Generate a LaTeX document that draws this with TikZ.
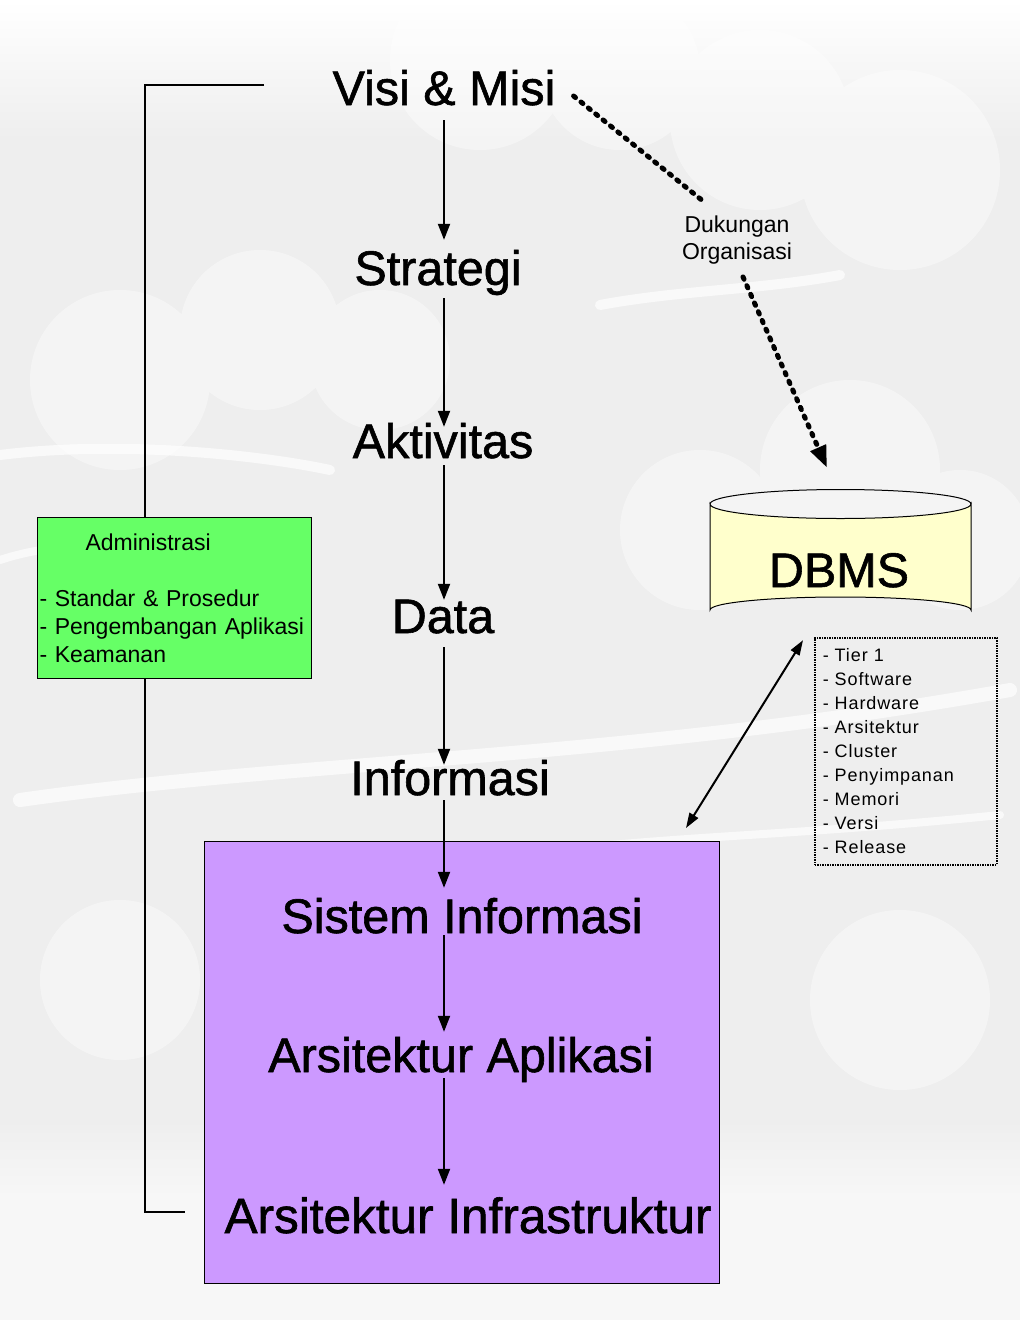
\documentclass[tikz,border=0pt]{standalone}
\usepackage{fontspec}
\setmainfont{Liberation Sans}
\usetikzlibrary{arrows.meta,calc}
\definecolor{bggray}{RGB}{238,238,238}
\definecolor{admgreen}{RGB}{102,255,102}
\definecolor{syspurple}{RGB}{204,153,255}
\definecolor{dbyellow}{RGB}{255,255,204}
\tikzset{
  big/.style={font=\fontsize{48.5}{58}\selectfont\addfontfeature{FakeBold=1.2}, inner sep=0pt, text height=33pt, text depth=12pt, anchor=base},
  flowarrow/.style={line width=2pt, -{Triangle[length=16pt,width=12pt]}},
  dotline/.style={line width=5pt, dash pattern=on 2.5pt off 7pt, line cap=round},
  dotarrow/.style={dotline, -{Triangle[length=22pt,width=16pt]}},
  dblarrow/.style={line width=2pt, {Triangle[length=15pt,width=10pt]}-{Triangle[length=15pt,width=10pt]}},
  bracketline/.style={line width=2pt},
  admbox/.style={draw=black, line width=1pt, fill=admgreen, minimum width=274pt, minimum height=161pt, inner xsep=2pt, inner ysep=0pt, align=left, text width=270pt, font=\fontsize{23}{28}\selectfont, anchor=north west},
  sysbox/.style={draw=black, line width=1pt, fill=syspurple, minimum width=515pt, minimum height=442pt, anchor=north west, inner sep=0pt},
  tierbox/.style={draw=black, line width=1.5pt, dash pattern=on 1.5pt off 1pt, minimum width=182pt, minimum height=227pt, inner xsep=8pt, inner ysep=0pt, align=left, text width=166pt, anchor=north west, font=\fontsize{18}{24}\selectfont\addfontfeature{LetterSpace=5}},
  smalllabel/.style={font=\fontsize{23}{27}\selectfont, align=center, inner sep=0pt},
  band/.style={white, line cap=round, opacity=0.7},
  puff/.style={white, opacity=0.4}
}
\begin{document}
\begin{tikzpicture}[x=1pt,y=-1pt]
\useasboundingbox (0,0) rectangle (1020,1320);
% background (cloudy)
\fill[bggray] (0,0) rectangle (1020,1320);
\shade[top color=white, bottom color=bggray] (0,0) rectangle (1020,140);
\shade[top color=bggray, bottom color=white!97!black] (0,1120) rectangle (1020,1200);
\fill[white!97!black] (0,1200) rectangle (1020,1320);
\fill[puff] (480,60) circle[radius=90] (620,70) circle[radius=80] (760,120) circle[radius=90] (900,170) circle[radius=100]
  (120,380) circle[radius=90] (260,330) circle[radius=80] (380,360) circle[radius=70]
  (700,530) circle[radius=80] (850,470) circle[radius=90] (960,540) circle[radius=70]
  (120,980) circle[radius=80] (900,1000) circle[radius=90];
\draw[band, line width=14pt] (20,800) .. controls (300,760) and (620,760) .. (1010,690);
\draw[band, line width=10pt] (600,305) .. controls (680,290) and (760,290) .. (840,275);
\draw[band, line width=10pt] (0,455) .. controls (120,440) and (260,455) .. (330,470);
\draw[band, line width=8pt] (560,850) .. controls (700,835) and (800,835) .. (1000,815);
\draw[band, line width=8pt] (0,560) .. controls (60,540) and (120,545) .. (200,560);

% main column
\coordinate (spine) at (444,0);
\node[big] (visi)  at (444,105)  {Visi \& Misi};
\node[big] (strat) at (438,285)  {Strategi};
\node[big] (akt)   at (443,458)  {Aktivitas};
\node[big] (data)  at (443,633)  {Data};
\node[big] (info)  at (450,795)  {Informasi};

% bracket
\coordinate (bt) at (264,85);
\coordinate (bb) at (185,1212);
\draw[bracketline] (bt) -- (145,85) -- (145,1212) -- (bb);

% administration box
\node[admbox] (adm) at (37,517) {\hspace*{46pt}Administrasi\\[28pt]- Standar \& Prosedur\\- Pengembangan Aplikasi\\- Keamanan};

% system box
\node[sysbox] (sys) at (204,841) {};
\node[big] (si)    at (462,933)  {Sistem Informasi};
\node[big] (aa)    at (461,1072) {Arsitektur Aplikasi};
\node[big, font=\fontsize{49.5}{58}\selectfont\addfontfeature{FakeBold=1.2}] (ai) at (468,1233) {Arsitektur Infrastruktur};

% flow arrows
\draw[flowarrow] ([yshift=-3pt]visi.south -| spine) -- ([yshift=12pt]strat.north -| spine);
\draw[flowarrow] ([yshift=-1pt]strat.south -| spine) -- ([yshift=-2pt]akt.north -| spine);
\draw[flowarrow] ([yshift=5pt]akt.south -| spine) -- (data.north -| spine);
\draw[flowarrow] ([yshift=-2pt]data.south -| spine) -- ([yshift=-3pt]info.north -| spine);
\draw[flowarrow] ([yshift=7pt]info.south -| spine) -- ([yshift=12pt]si.north -| spine);
\draw[flowarrow] ([yshift=10pt]si.south -| spine) -- ([yshift=7pt]aa.north -| spine);
\draw[flowarrow] ([yshift=6pt]aa.south -| spine) -- ([yshift=15pt]ai.north -| spine);

% DBMS cylinder
\node[minimum width=261pt, minimum height=133pt, inner sep=0pt] (dbms) at (840.5,556.5) {};
\filldraw[fill=dbyellow, draw=black, line width=1pt]
  (710,504) -- (710,610) arc[start angle=180, end angle=360, x radius=130.5, y radius=13]
  -- (971,504) arc[start angle=0, end angle=180, x radius=130.5, y radius=14.5] -- cycle;
\draw[line width=1pt] (710,504) arc[start angle=180, end angle=360, x radius=130.5, y radius=14.5];
\node[big] (dbmstext) at (839,587) {DBMS};

% tier list
\node[tierbox] (tier) at (814,637) {- Tier 1\\- Software\\- Hardware\\- Arsitektur\\- Cluster\\- Penyimpanan\\- Memori\\- Versi\\- Release};

% Dukungan Organisasi
\node[smalllabel] (duk) at (737,240.5) {Dukungan\\Organisasi};
\draw[dotline] ([xshift=18pt,yshift=-1.5pt]visi.east) -- ([xshift=-34pt,yshift=15pt]duk.north);
\draw[dotarrow] ([xshift=6pt,yshift=-12pt]duk.south) -- ([xshift=-13.5pt,yshift=22pt]dbms.north);

% DBMS <-> system
\draw[dblarrow] ([xshift=-37.5pt,yshift=-17pt]dbms.south) -- ([xshift=-34pt,yshift=13pt]sys.north east);
\end{tikzpicture}
\end{document}
